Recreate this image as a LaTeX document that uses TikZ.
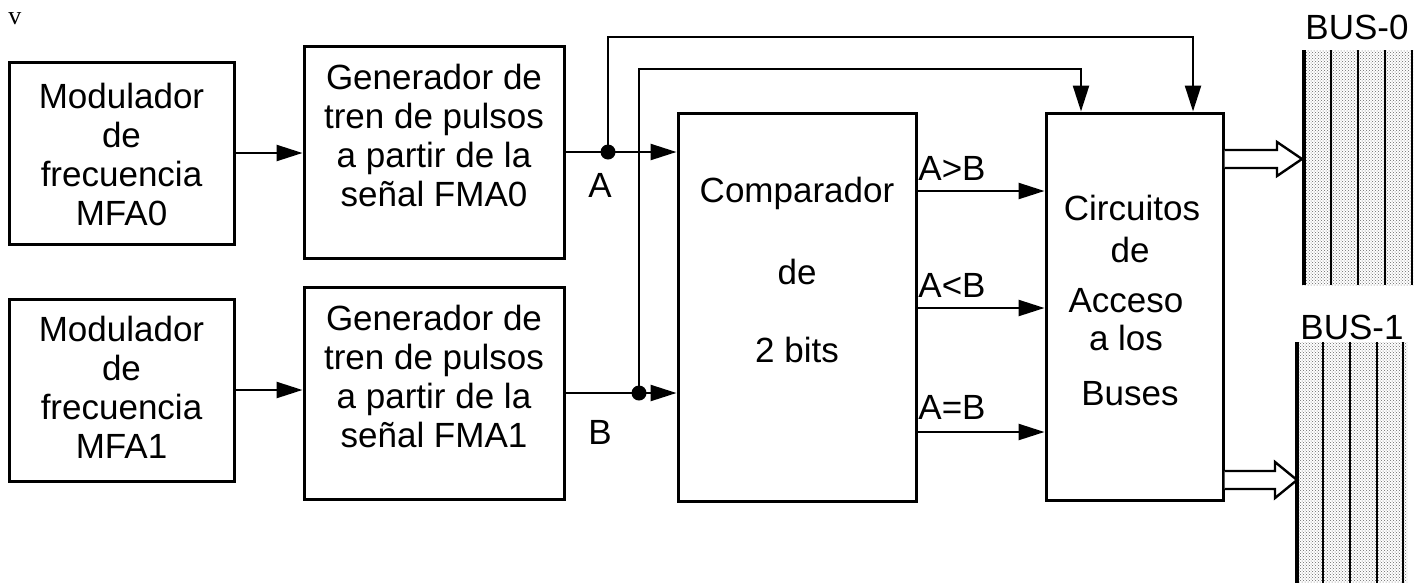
\documentclass[tikz,border=0pt]{standalone}
\usepackage{fontspec}
\setmainfont{Liberation Sans}
\newfontfamily\vserif{Liberation Serif}
\usetikzlibrary{arrows.meta,patterns}
\begin{document}
\begin{tikzpicture}[x=1pt,y=-1pt,
  box/.style={draw,line width=3pt,rectangle,inner sep=0pt},
  txt/.style={font=\fontsize{35}{39}\selectfont,align=center,inner sep=0pt},
  lab/.style={font=\fontsize{35}{39}\selectfont,inner sep=0pt,text height=25pt,text depth=0pt},
  wire/.style={line width=2.4pt},
  arr/.style={line width=2.4pt,-{Triangle[length=26pt,width=16pt]}},
  jdot/.style={circle,fill=black,inner sep=0pt,minimum size=15pt},
  hollow/.style={line width=2.4pt,fill=white,line join=miter},
  busline/.style={line width=2.4pt},
  busfill/.style={pattern=crosshatch dots,pattern color=black!60}
]
\useasboundingbox (0,0) rectangle (1423,582);
\clip (0,0) rectangle (1423,582);

% top-left stray letter
\node[font=\vserif\fontsize{26}{28}\selectfont,inner sep=0pt,anchor=base] (v) at (15,24) {v};

% boxes
\node[box,minimum width=225pt,minimum height=182pt] (m0) at (121.5,153) {};
\node[box,minimum width=225pt,minimum height=182pt] (m1) at (121.5,390) {};
\node[box,minimum width=260pt,minimum height=212pt] (g0) at (434,152) {};
\node[box,minimum width=260pt,minimum height=212pt] (g1) at (434,393) {};
\node[box,minimum width=238pt,minimum height=388pt] (c) at (797,307) {};
\node[box,minimum width=177pt,minimum height=387pt] (circ) at (1134.5,306.5) {};

% box texts
\node[txt] (m0t) at (121.5,154) {Modulador\\de\\frecuencia\\MFA0};
\node[txt] (m1t) at (121.5,387) {Modulador\\de\\frecuencia\\MFA1};
\node[txt] (g0t) at (434,135) {Generador de\\tren de pulsos\\a partir de la\\señal FMA0};
\node[txt] (g1t) at (434,376) {Generador de\\tren de pulsos\\a partir de la\\señal FMA1};

\node[lab] (ct1) at (797,190) {Comparador};
\node[lab] (ct2) at (797,272) {de};
\node[lab] (ct3) at (797,350) {2 bits};

\node[lab] (kt1) at (1132,208) {Circuitos};
\node[lab] (kt2) at (1130,250) {de};
\node[lab] (kt3) at (1126,300) {Acceso};
\node[lab] (kt4) at (1126,338) {a los};
\node[lab] (kt5) at (1130,393) {Buses};

% wire labels
\node[lab] (la) at (600,185) {A};
\node[lab] (lb) at (600,432) {B};
\node[lab] (lgt) at (952,168) {A>B};
\node[lab] (llt) at (952,285) {A<B};
\node[lab] (leq) at (952,407) {A=B};

% connectors
\draw[arr] (m0.east) -- (m0.east -| g0.west);
\draw[arr] (m1.east) -- (m1.east -| g1.west);

\coordinate (ja) at (608,152);
\coordinate (jb) at (639,393);
\coordinate (ca) at ([xshift=58.5pt]circ.north);
\coordinate (cb) at ([xshift=-53.5pt]circ.north);

\draw[arr] (g0.east |- ja) -- (ja -| c.west);
\draw[arr] (g1.east |- jb) -- (jb -| c.west);
\draw[arr] (ja) -- (ja |- 0,37) -| (ca);
\draw[arr] (jb) -- (jb |- 0,69) -| (cb);
\node[jdot] (da) at (ja) {};
\node[jdot] (db) at (jb) {};

\draw[arr] (c.east |- 0,191) -- (circ.west |- 0,191);
\draw[arr] (c.east |- 0,308) -- (circ.west |- 0,308);
\draw[arr] (c.east |- 0,432) -- (circ.west |- 0,432);

% buses
\fill[busfill] (1302,50) rectangle (1413,285);
\foreach \xx in {1331,1358,1385,1412} \draw[busline] (\xx,50) -- (\xx,285);
\draw[busline,line width=3.2pt] (1304,50) -- (1304,285);
\node[lab] (bus0) at (1357,27) {BUS-0};

\fill[busfill] (1297,342) rectangle (1407,590);
\foreach \xx in {1323,1350,1377,1403} \draw[busline] (\xx,342) -- (\xx,590);
\draw[busline,line width=3.2pt] (1297,342) -- (1297,590);
\node[lab] (bus1) at (1352,327) {BUS-1};

% hollow arrows
\draw[hollow] (circ.east |- 0,150) -- (1277,150) -- (1277,142) -- (1302,159) -- (1277,176) -- (1277,168) -- (circ.east |- 0,168);
\draw[hollow] (circ.east |- 0,471) -- (1275,471) -- (1275,462) -- (1297,480) -- (1275,498) -- (1275,489) -- (circ.east |- 0,489);
\end{tikzpicture}
\end{document}
